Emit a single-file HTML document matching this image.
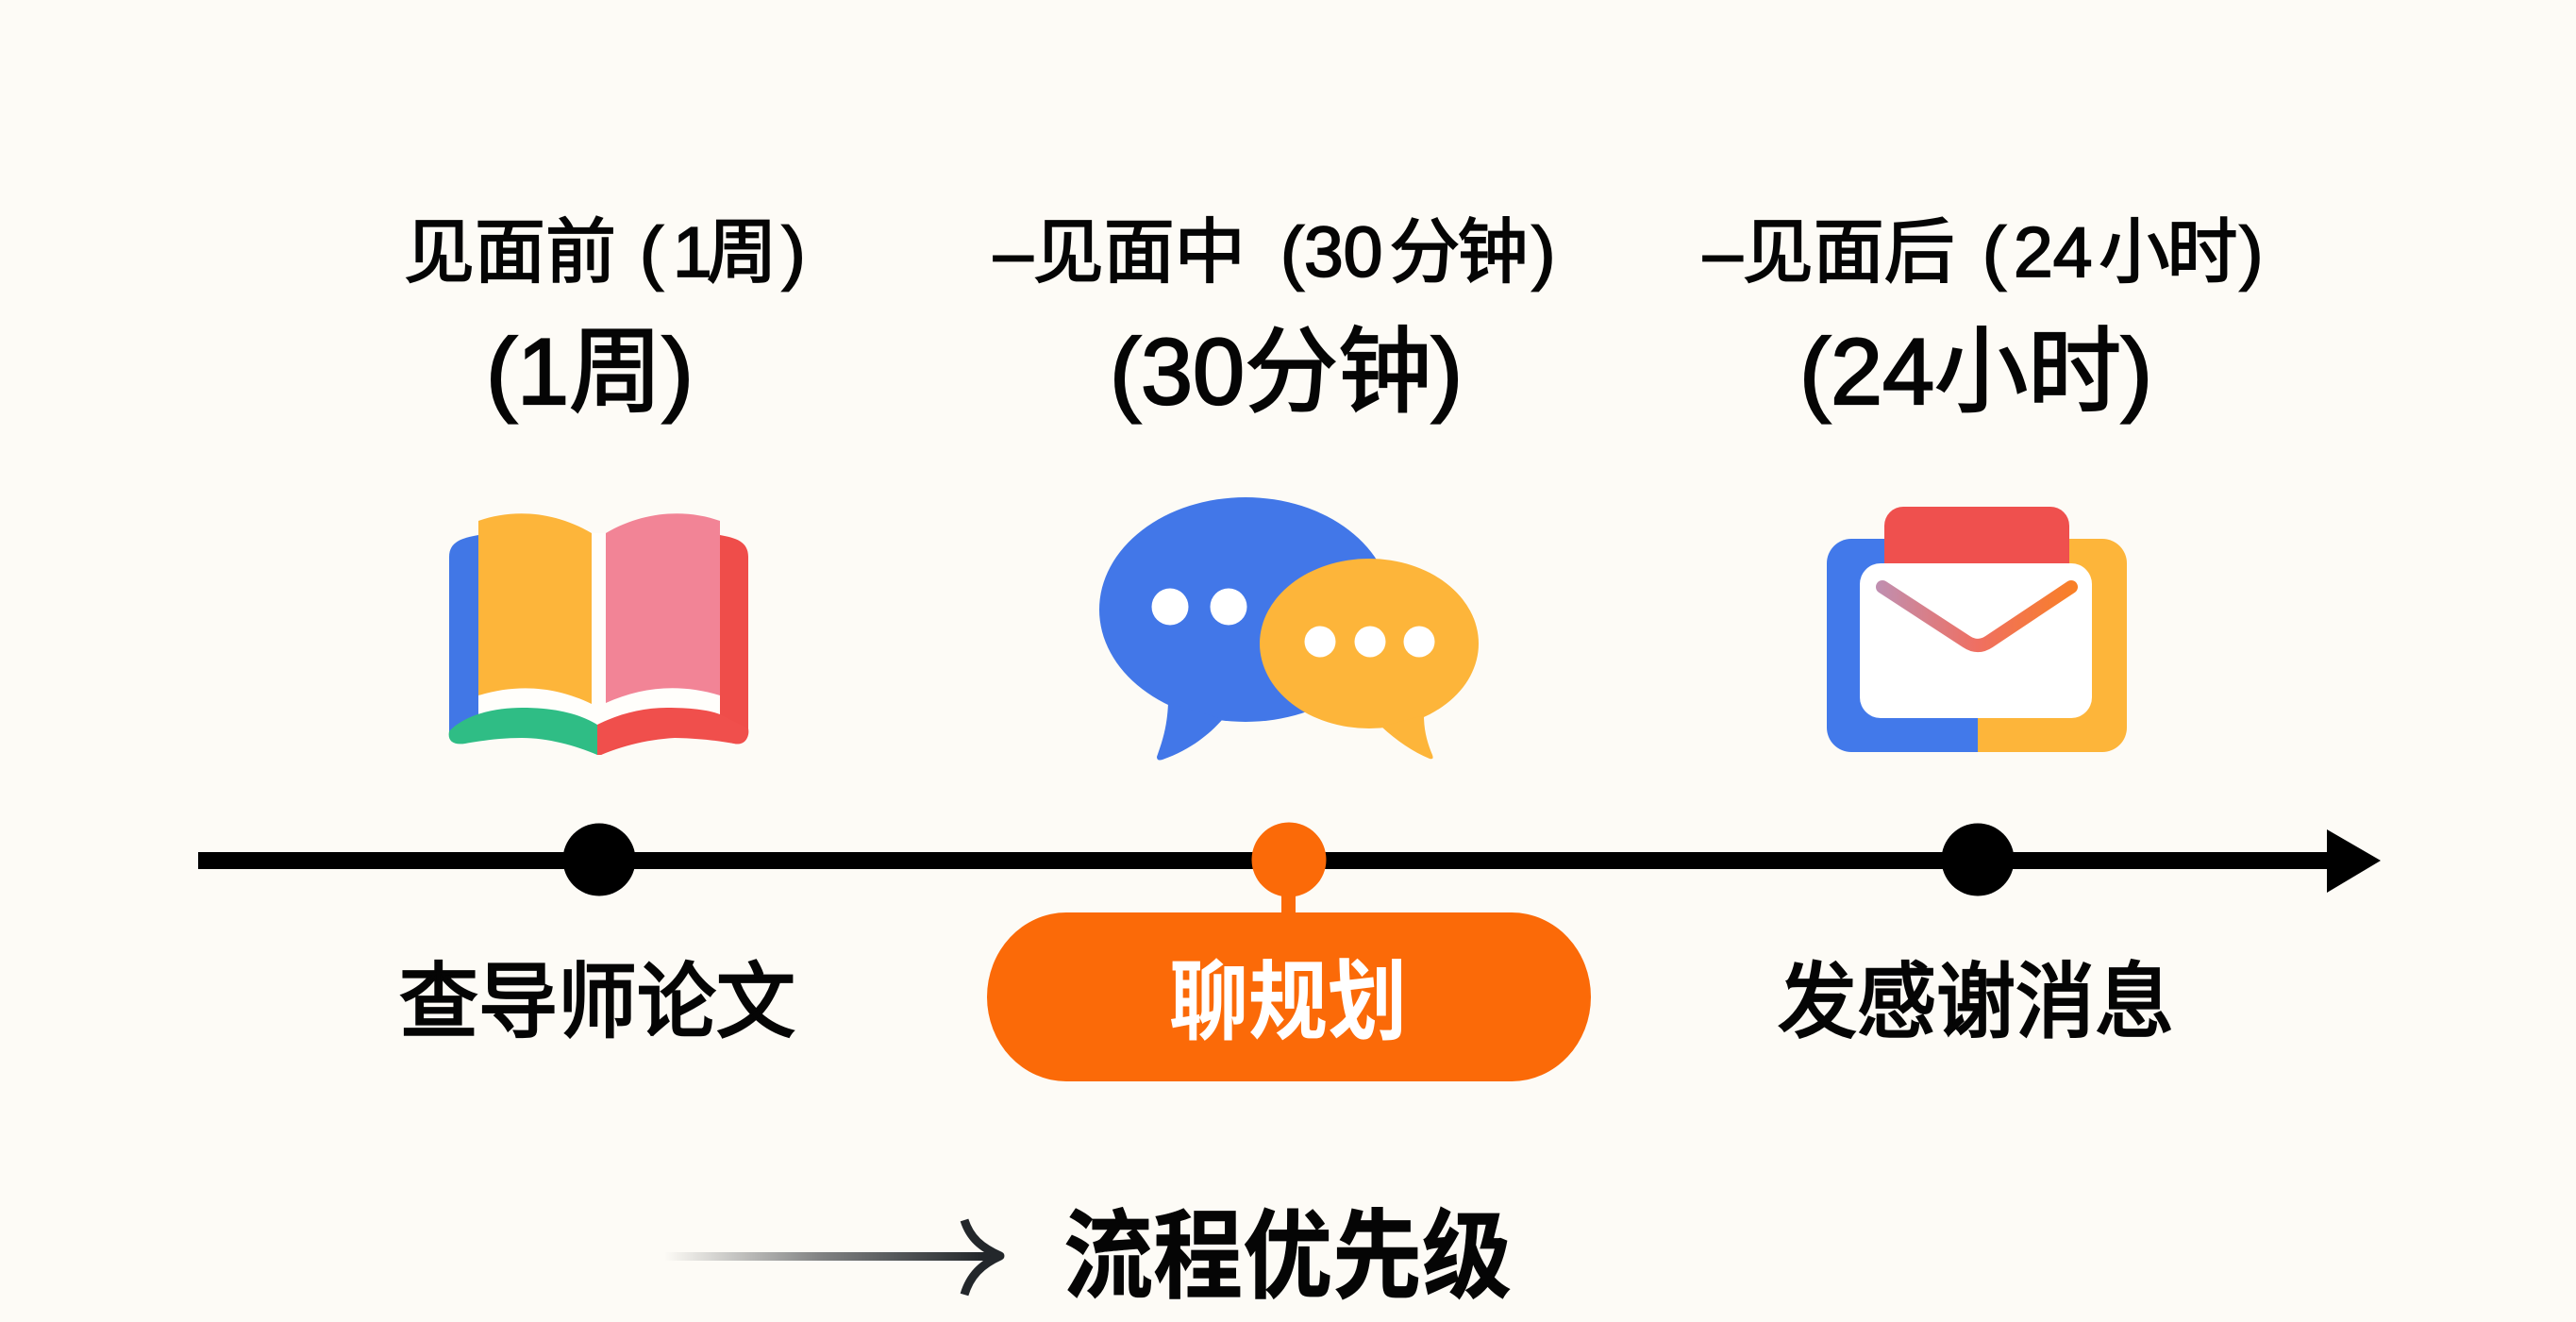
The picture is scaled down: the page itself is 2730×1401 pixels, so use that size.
<!DOCTYPE html>
<html lang="zh">
<head>
<meta charset="utf-8">
<style>
html,body{margin:0;padding:0;background:#fdfbf6;width:2730px;height:1401px;overflow:hidden}
svg{display:block}
text{font-family:"Liberation Sans","Noto Sans CJK SC",sans-serif;fill:#050505}
.l1{font-size:75px;stroke:#050505;stroke-width:1.8px}
.l2{font-size:99px;stroke:#050505;stroke-width:2.2px}
.lb{font-size:84px;stroke:#050505;stroke-width:2.6px}
.tt{font-size:95px;font-weight:700;stroke:#050505;stroke-width:.6px}
</style>
</head>
<body>
<svg width="2730" height="1401" viewBox="0 0 2730 1401" xmlns="http://www.w3.org/2000/svg">
<defs>
<linearGradient id="fade" x1="704" x2="1040" y1="0" y2="0" gradientUnits="userSpaceOnUse">
<stop offset="0" stop-color="#2b2f33" stop-opacity="0"/><stop offset=".5" stop-color="#2b2f33" stop-opacity=".6"/><stop offset="1" stop-color="#23272b"/>
</linearGradient>
<linearGradient id="vg" x1="1990" x2="2200" y1="0" y2="0" gradientUnits="userSpaceOnUse">
<stop offset="0" stop-color="#c08fb0"/><stop offset=".5" stop-color="#ef6f62"/><stop offset="1" stop-color="#f98026"/>
</linearGradient>
</defs>
<rect width="2730" height="1401" fill="#fdfbf6"/>

<text class="l1" x="428" y="293">见面前</text>
<text class="l1" x="678" y="293">(<tspan dx="10">1</tspan><tspan dx="-6">周</tspan><tspan dx="5">)</tspan></text>
<text class="l1" x="1053" y="293">–见面中</text>
<text class="l1" x="1357" y="293">(30<tspan dx="7">分</tspan><tspan dx="-3">钟</tspan><tspan dx="4">)</tspan></text>
<text class="l1" x="1805" y="293">–见面后</text>
<text class="l1" x="2101" y="293">(<tspan dx="8">24</tspan><tspan dx="7">小</tspan><tspan dx="-3">时</tspan><tspan dx="2">)</tspan></text>

<text class="l2" x="515" y="428">(1周)</text>
<text class="l2" x="1176" y="428">(30分钟)</text>
<text class="l2" x="1907" y="428">(24小时)</text>

<!-- book -->
<path d="M507 567 C490 570 476 574 476 590 L476 778 L507 757 Z" fill="#4177e6"/>
<path d="M763 567 C780 570 793 574 793 590 L793 775 C793 785 787 790 778 788 C730 776 680 782 637 800 L633 768 L763 757 Z" fill="#ef4d4a"/>
<path d="M507 565 H763 V760 L633 772 L507 760 Z" fill="#fffefb"/>
<path d="M507 552 C540 540 585 540 627 565 V746 C590 728 550 724 507 737 Z" fill="#fdb53a"/>
<path d="M642 565 C684 540 730 540 763 552 V737 C720 724 680 728 642 745 Z" fill="#f28496"/>
<path d="M476 775 C495 755 530 750 553 750 C590 750 615 757 633 768 V800 C610 790 580 782 553 782 C530 782 510 785 493 788 C480 790 474 785 476 775 Z" fill="#2fbd85"/>
<path d="M633 768 C655 757 680 750 707 750 C730 750 750 752 763 757 L793 772 C795 782 788 790 778 788 C760 785 740 782 707 782 C680 782 655 790 637 800 L633 800 Z" fill="#f04f4c"/>

<!-- chat -->
<ellipse cx="1320" cy="646" rx="155" ry="119" fill="#4277e8"/>
<path d="M1238 745 C1237 770 1232 785 1226 802 C1226 806 1229 806 1232 805 C1260 795 1280 780 1296 762 Z" fill="#4277e8"/>
<circle cx="1240" cy="643" r="19.5" fill="#fff"/>
<circle cx="1302" cy="643" r="19.5" fill="#fff"/>
<ellipse cx="1451" cy="682" rx="116" ry="90" fill="#fdb53a"/>
<path d="M1464 770 C1480 785 1498 797 1515 804 C1519 805 1519 803 1518 800 C1513 788 1509 775 1509 758 Z" fill="#fdb53a"/>
<circle cx="1399" cy="680" r="16.5" fill="#fff"/>
<circle cx="1452" cy="680" r="16.5" fill="#fff"/>
<circle cx="1504" cy="680" r="16.5" fill="#fff"/>

<!-- mail -->
<path d="M1962 571 H2096 V797 H1962 A26 26 0 0 1 1936 771 V597 A26 26 0 0 1 1962 571 Z" fill="#4279ea"/>
<path d="M2096 571 H2228 A26 26 0 0 1 2254 597 V771 A26 26 0 0 1 2228 797 H2096 Z" fill="#fdb53a"/>
<path d="M2017 537 H2173 A20 20 0 0 1 2193 557 V600 H1997 V557 A20 20 0 0 1 2017 537 Z" fill="#ef504e"/>
<rect x="1971" y="597" width="246" height="164" rx="22" fill="#fff"/>
<path d="M1995 622 L2084 680 Q2096 688 2108 680 L2195 622" fill="none" stroke="url(#vg)" stroke-width="14" stroke-linecap="round" stroke-linejoin="round"/>

<!-- timeline -->
<rect x="210" y="903" width="2260" height="18" fill="#000"/>
<polygon points="2466,879 2523,912 2466,946" fill="#000"/>
<circle cx="635" cy="911" r="38.5" fill="#000"/>
<circle cx="2096" cy="911" r="38.5" fill="#000"/>
<rect x="1358" y="930" width="15" height="45" fill="#fb6a08"/>
<circle cx="1366" cy="911" r="39.5" fill="#fb6a08"/>
<rect x="1046" y="967" width="640" height="179" rx="84" ry="89.5" fill="#fb6a08"/>

<text class="lb" transform="translate(423 1092) scale(1 1.04)">查导师论文</text>
<text class="lb" transform="translate(1884 1092) scale(1 1.04)">发感谢消息</text>
<text transform="translate(1239 1094) scale(1 1.1)" style="font-size:84px;font-weight:700;fill:#fff">聊规划</text>

<!-- legend -->
<rect x="704" y="1327" width="354" height="9" fill="url(#fade)"/>
<path d="M1022 1293 C1028 1312 1040 1322 1060 1331 C1040 1340 1028 1352 1022 1372" fill="none" stroke="#23272b" stroke-width="9" stroke-linejoin="round"/>
<text class="tt" transform="translate(1127 1367) scale(1 1.08)">流程优先级</text>
</svg>
</body>
</html>
